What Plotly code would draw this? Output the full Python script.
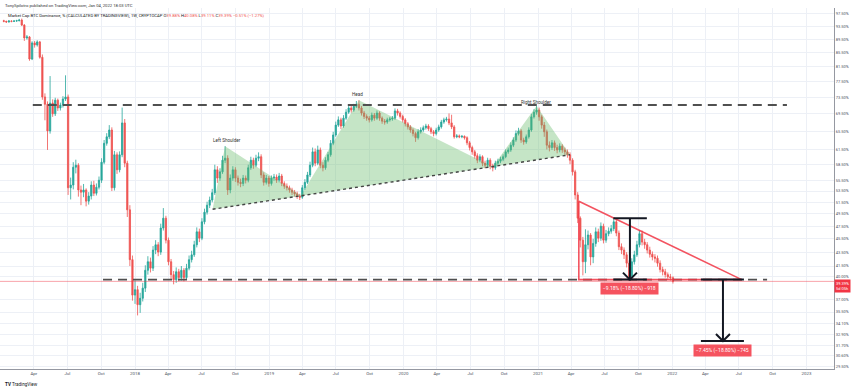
import math
import pandas as pd
import plotly.graph_objects as go

# ---------------- data (weekly BTC dominance, %) ----------------
first_open = 95.3
closes = [
    95.1, 94.9, 95.2, 95.1, 95.2, 95.3, 95.5, 93.9, 89.9, 90.2,
    83.7, 88.4, 87.8, 88.7, 84.2, 73.6, 71.8, 65.6, 72.1, 69.5,
    72.8, 70.9, 71.6, 73.1, 73.6, 54.1, 54.6, 58.0, 58.4, 53.7,
    53.3, 53.7, 51.7, 52.6, 54.6, 53.1, 54.2, 55.5, 59.0, 62.9,
    64.3, 65.8, 54.1, 60.5, 57.5, 60.5, 67.4, 58.8, 50.2, 42.4,
    37.6, 38.3, 36.4, 37.2, 38.5, 40.9, 42.1, 41.2, 43.8, 44.6,
    43.5, 47.2, 48.8, 45.3, 42.1, 40.3, 39.6, 40.7, 39.9, 40.9,
    39.9, 41.2, 42.4, 43.1, 44.6, 46.6, 45.6, 48.2, 49.8, 51.0,
    51.9, 53.2, 57.5, 55.9, 57.1, 59.4, 59.8, 53.7, 55.9, 57.5,
    55.9, 55.1, 54.9, 55.9, 55.5, 57.9, 59.4, 58.4, 59.8, 60.1,
    56.5, 55.1, 55.9, 54.9, 55.9, 56.1, 55.5, 56.3, 54.9, 54.4,
    54.1, 53.7, 53.3, 53.0, 52.6, 52.4, 54.1, 55.1, 56.5, 58.4,
    61.1, 58.8, 61.5, 58.4, 57.9, 59.4, 60.5, 62.9, 64.7, 66.9,
    68.1, 66.7, 68.5, 69.9, 70.9, 70.4, 71.3, 71.8, 70.9, 69.7,
    68.9, 68.5, 68.1, 69.2, 68.5, 69.7, 68.5, 67.8, 67.6, 68.1,
    68.3, 68.5, 70.2, 69.7, 68.9, 68.1, 67.2, 66.5, 65.8, 65.0,
    64.1, 65.4, 65.8, 66.3, 66.7, 66.1, 65.4, 65.0, 65.8, 66.5,
    67.6, 68.1, 68.3, 67.4, 66.5, 64.3, 64.5, 64.3, 64.4, 64.1,
    63.0, 62.0, 61.1, 60.3, 59.4, 60.1, 58.8, 58.4, 59.4, 58.2,
    57.9, 58.8, 59.2, 59.6, 60.1, 61.1, 61.5, 62.5, 63.6, 65.0,
    65.6, 63.6, 63.2, 64.3, 65.8, 68.8, 69.9, 70.4, 68.8, 66.9,
    65.4, 62.5, 62.0, 63.0, 62.0, 61.5, 62.3, 61.5, 61.1, 60.5,
    59.4, 57.1, 52.8, 48.8, 45.3, 42.1, 44.6, 46.1, 42.8, 44.8,
    46.6, 45.6, 47.5, 45.3, 46.3, 46.7, 47.1, 48.2, 46.4, 44.3,
    43.8, 43.1, 41.9, 40.0, 42.1, 43.1, 44.6, 46.3, 45.0, 44.6,
    43.8, 43.2, 42.8, 42.6, 41.9, 41.0, 40.7, 40.3, 40.0, 39.88,
    39.39,
]
highs = [
    95.6, 95.3, 95.5, 95.4, 95.5, 95.6, 95.9, 96.0, 94.2, 90.8,
    90.5, 88.9, 89.0, 89.2, 89.0, 85.0, 74.5, 72.5, 79.0, 73.0,
    73.4, 73.2, 72.2, 73.8, 79.2, 74.2, 56.0, 59.0, 59.5, 58.8,
    54.5, 54.8, 54.0, 53.3, 55.3, 55.4, 54.9, 56.2, 59.8, 63.6,
    65.1, 66.9, 66.4, 61.3, 61.0, 61.2, 71.0, 68.3, 59.3, 51.0,
    43.0, 39.5, 38.8, 37.9, 39.2, 41.6, 42.9, 42.7, 44.4, 45.3,
    45.0, 47.9, 50.5, 49.2, 45.7, 42.5, 40.8, 41.3, 41.1, 41.5,
    41.2, 41.8, 43.0, 43.7, 45.2, 47.3, 47.1, 48.8, 50.4, 51.6,
    52.5, 53.9, 58.5, 58.2, 57.8, 60.3, 62.3, 60.4, 56.6, 58.2,
    58.0, 56.4, 55.8, 56.5, 56.4, 58.5, 60.1, 59.9, 60.5, 61.0,
    60.6, 57.0, 56.5, 56.3, 56.4, 56.7, 56.6, 56.9, 56.7, 55.3,
    54.9, 54.5, 54.1, 53.7, 53.4, 53.0, 54.6, 55.7, 57.1, 59.1,
    62.0, 61.8, 62.4, 62.0, 59.0, 60.0, 61.1, 63.6, 65.4, 67.7,
    68.9, 68.6, 69.2, 70.6, 71.6, 71.5, 71.9, 72.6, 72.8, 71.4,
    70.2, 69.4, 69.0, 69.8, 69.7, 70.3, 70.1, 68.9, 68.3, 68.6,
    68.8, 69.0, 70.8, 70.7, 70.1, 69.3, 68.5, 67.6, 66.9, 66.2,
    65.4, 66.0, 66.4, 66.8, 67.2, 67.1, 66.5, 65.8, 66.3, 67.0,
    68.1, 68.6, 68.8, 69.6, 69.3, 66.9, 64.9, 64.8, 64.7, 64.6,
    64.4, 63.4, 62.4, 61.5, 60.8, 60.6, 60.4, 59.3, 59.9, 59.8,
    58.7, 59.3, 59.7, 60.1, 60.6, 61.6, 62.0, 63.1, 64.2, 65.7,
    66.3, 66.0, 64.1, 64.8, 66.4, 69.5, 70.6, 71.4, 71.0, 69.3,
    67.6, 65.9, 63.3, 63.6, 63.5, 62.6, 62.9, 62.7, 62.0, 61.6,
    61.0, 59.8, 57.5, 53.3, 49.1, 45.8, 47.0, 46.8, 46.4, 45.5,
    47.3, 47.1, 48.1, 47.9, 46.9, 47.3, 47.7, 48.8, 48.6, 46.8,
    44.8, 44.2, 43.5, 42.3, 42.6, 43.7, 45.2, 46.9, 46.8, 45.5,
    45.0, 44.3, 43.6, 43.2, 43.0, 42.3, 41.4, 41.1, 40.6, 40.4,
    40.08,
]
lows = [
    94.8, 94.6, 94.7, 94.8, 94.9, 95.0, 95.1, 93.6, 89.0, 89.4,
    83.2, 83.4, 87.0, 87.3, 83.8, 72.9, 68.0, 61.5, 65.0, 68.8,
    69.0, 70.2, 70.3, 71.0, 72.6, 52.8, 52.0, 53.8, 56.8, 52.5,
    51.0, 52.4, 50.8, 51.1, 52.0, 52.6, 52.7, 53.8, 55.0, 58.6,
    62.4, 63.8, 53.5, 53.6, 56.7, 57.0, 60.0, 58.0, 49.0, 41.5,
    36.9, 36.5, 35.1, 35.4, 36.8, 38.0, 40.3, 40.6, 40.8, 43.2,
    42.9, 43.1, 46.8, 44.8, 41.6, 39.7, 39.0, 39.2, 39.4, 39.5,
    39.4, 39.6, 40.9, 42.0, 42.8, 44.2, 45.0, 45.3, 47.8, 49.4,
    50.5, 51.5, 52.8, 55.0, 55.4, 56.7, 58.8, 52.8, 53.1, 55.4,
    55.2, 54.5, 54.2, 54.4, 54.9, 55.1, 57.5, 57.7, 58.0, 59.2,
    55.9, 54.5, 54.7, 54.3, 54.5, 55.4, 55.0, 55.1, 54.4, 53.9,
    53.6, 53.2, 52.8, 52.5, 52.1, 51.9, 52.1, 53.7, 54.8, 56.1,
    58.0, 58.2, 58.4, 57.8, 57.2, 57.5, 59.0, 60.1, 62.5, 64.3,
    66.5, 66.0, 66.3, 68.1, 69.5, 69.8, 70.0, 70.9, 70.3, 69.1,
    68.3, 67.9, 67.5, 67.7, 67.9, 68.1, 67.9, 67.2, 67.0, 67.2,
    67.7, 67.9, 68.1, 69.1, 68.4, 67.5, 66.6, 65.9, 65.2, 64.4,
    63.2, 63.7, 65.0, 65.4, 65.9, 65.6, 64.9, 64.4, 64.6, 65.4,
    66.1, 67.2, 67.7, 66.9, 66.0, 63.9, 64.0, 64.0, 64.0, 63.7,
    62.5, 61.4, 60.5, 59.7, 58.8, 59.0, 58.2, 57.8, 58.0, 57.6,
    57.2, 57.5, 58.4, 58.8, 59.2, 59.8, 60.7, 61.1, 62.1, 63.2,
    64.6, 63.0, 62.6, 62.8, 63.9, 65.4, 68.4, 69.3, 67.9, 66.1,
    64.3, 61.6, 61.2, 61.5, 61.3, 60.8, 61.0, 60.9, 60.5, 59.9,
    58.6, 56.4, 52.0, 48.0, 44.2, 40.2, 40.5, 43.9, 41.6, 41.9,
    44.3, 45.0, 45.2, 44.8, 44.9, 45.9, 46.3, 46.7, 45.9, 43.8,
    43.2, 42.5, 41.3, 39.7, 39.7, 41.7, 42.8, 44.2, 44.5, 44.0,
    43.3, 42.7, 42.3, 42.0, 41.4, 40.6, 40.2, 39.9, 39.6, 39.5,
    39.11,
]
opens = [first_open] + closes[:-1]
dates = pd.date_range("2017-01-09", periods=len(closes), freq="7D")

x_tick_vals = ["2017-04-01", "2017-07-01", "2017-10-01", "2018-01-01",
               "2018-04-01", "2018-07-01", "2018-10-01", "2019-01-01",
               "2019-04-01", "2019-07-01", "2019-10-01", "2020-01-01",
               "2020-04-01", "2020-07-01", "2020-10-01", "2021-01-01",
               "2021-04-01", "2021-07-01", "2021-10-01", "2022-01-01",
               "2022-04-01", "2022-07-01", "2022-10-01", "2023-01-01"]
x_tick_text = ["Apr", "Jul", "Oct", "2018", "Apr", "Jul", "Oct", "2019",
               "Apr", "Jul", "Oct", "2020", "Apr", "Jul", "Oct", "2021",
               "Apr", "Jul", "Oct", "2022", "Apr", "Jul", "Oct", "2023"]

y_tick_vals = [97.5, 93.5, 89.5, 85.5, 81.5, 77.5, 73.5, 69.5, 65.5, 61.5,
               58.5, 55.5, 53.5, 51.5, 49.5, 47.5, 45.5, 43.5, 41.5, 40.0,
               37.0, 35.5, 34.1, 32.9, 31.7, 30.6, 29.5]
y_tick_text = ["%.2f%%" % v for v in y_tick_vals]

# drawings
hs_dates = ["2018-07-31", "2018-09-03", "2019-03-28", "2019-09-02",
            "2020-08-31", "2020-12-28", "2021-03-29"]
hs_values = [50.3, 62.3, 52.7, 72.8, 58.1, 71.4, 60.5]
hs_label_text = ["Left Shoulder", "Head", "Right Shoulder"]
hs_label_dates = ["2018-09-08", "2019-08-30", "2020-12-27"]
hs_label_values = [63.6, 74.3, 72.3]

upper_level = 71.6
upper_span = ["2017-03-29", "2022-11-09"]
support_level = 39.63
support_span = ["2017-10-06", "2022-09-16"]

tri_dates = ["2021-04-22", "2022-07-09", "2021-04-22", "2021-04-22"]
tri_values = [51.7, 39.63, 39.63, 51.7]

m1_span = ["2021-07-25", "2021-10-24"]
m1_center = "2021-09-08"
m1_top, m1_bottom = 48.81, 39.63
m2_span = ["2022-03-20", "2022-07-15"]
m2_center = "2022-05-19"
m2_top, m2_bottom = 39.63, 32.18
m1_label = "−9.18% (−18.80%) −918"
m2_label = "−7.45% (−18.80%) −745"
m1_label_value = 38.4
m2_label_value = 31.16

last_price = 39.39

UP = "#26a69a"
DOWN = "#ef5350"
RED = "#f23645"
INK = "#131722"

fig = go.Figure()

# green head & shoulders fill
fig.add_trace(go.Scatter(
    x=hs_dates + [hs_dates[0]], y=hs_values + [hs_values[0]],
    fill="toself", fillcolor="rgba(102,187,106,0.38)",
    mode="lines", line=dict(width=0), hoverinfo="skip", showlegend=False))

# price line
fig.add_trace(go.Scatter(
    x=["2016-12-20", "2023-04-01"], y=[last_price, last_price], mode="lines",
    line=dict(color="rgba(242,54,69,0.45)", width=1), hoverinfo="skip",
    showlegend=False))

# dashed levels
for lvl, span, w in [(upper_level, upper_span, 2), (support_level, support_span, 1.8)]:
    fig.add_trace(go.Scatter(
        x=span, y=[lvl, lvl], mode="lines",
        line=dict(color="#505050", width=w, dash="9px,6px"),
        hoverinfo="skip", showlegend=False))

# candles
fig.add_trace(go.Candlestick(
    x=dates, open=opens, high=highs, low=lows, close=closes,
    increasing=dict(line=dict(color=UP, width=0.8), fillcolor=UP),
    decreasing=dict(line=dict(color=DOWN, width=0.8), fillcolor=DOWN),
    whiskerwidth=0, hoverinfo="skip", showlegend=False))

# neckline
fig.add_trace(go.Scatter(
    x=[hs_dates[0], hs_dates[-1]], y=[hs_values[0], hs_values[-1]], mode="lines",
    line=dict(color="#444444", width=1.4, dash="dot"),
    hoverinfo="skip", showlegend=False))

# triangle
fig.add_trace(go.Scatter(
    x=tri_dates, y=tri_values, mode="lines",
    line=dict(color=RED, width=1.6), opacity=0.85,
    hoverinfo="skip", showlegend=False))


def day_shift(d, n):
    return (pd.Timestamp(d) + pd.Timedelta(days=n)).strftime("%Y-%m-%d")


for span, center, top, bottom in [(m1_span, m1_center, m1_top, m1_bottom),
                                   (m2_span, m2_center, m2_top, m2_bottom)]:
    for lvl in (top, bottom):
        fig.add_trace(go.Scatter(x=span, y=[lvl, lvl], mode="lines",
                                 line=dict(color=INK, width=2),
                                 hoverinfo="skip", showlegend=False))
    fig.add_trace(go.Scatter(x=[center, center], y=[top, bottom], mode="lines",
                             line=dict(color=INK, width=2),
                             hoverinfo="skip", showlegend=False))
    arm = bottom * math.exp(7 / 295)
    fig.add_trace(go.Scatter(
        x=[day_shift(center, -19), center, day_shift(center, 19)],
        y=[arm, bottom, arm], mode="lines",
        line=dict(color=INK, width=2), hoverinfo="skip", showlegend=False))

annotations = []
for t, d, v in zip(hs_label_text, hs_label_dates, hs_label_values):
    annotations.append(dict(x=d, y=math.log10(v), xref="x", yref="y", text=t,
                            showarrow=False, font=dict(size=4.6, color="#333333")))
for txt, d, v in [(m1_label, m1_center, m1_label_value), (m2_label, m2_center, m2_label_value)]:
    annotations.append(dict(x=d, y=math.log10(v), xref="x", yref="y", text=txt,
                            showarrow=False, bgcolor="#f5535f", borderpad=2,
                            font=dict(size=5, color="white")))

# last price label on axis
annotations.append(dict(x=1.0, y=math.log10(last_price), xref="paper", yref="y",
                        xanchor="left", yanchor="top", yshift=2, showarrow=False,
                        text="39.39%<br>5d 05h", bgcolor=RED, borderpad=1,
                        align="left", font=dict(size=4, color="white")))

H_PLOT = 391 - 8 - 22
def py(ypix):
    return (369 - ypix) / H_PLOT

annotations.append(dict(x=3 / 834, y=py(5), xref="paper", yref="paper", xanchor="left",
                        yanchor="middle", showarrow=False,
                        text="TonySpilotro published on TradingView.com, Jan 04, 2022 18:03 UTC",
                        font=dict(size=4.2, color="#333333")))
leg = ("Market Cap BTC Dominance, % (CALCULATED BY TRADINGVIEW), 1W, CRYPTOCAP "
       "O<span style='color:#ef5350'>39.88%</span> "
       "H<span style='color:#ef5350'>40.08%</span> "
       "L<span style='color:#ef5350'>39.11%</span> "
       "C<span style='color:#ef5350'>39.39%</span> "
       "<span style='color:#ef5350'>−0.51% (−1.27%)</span>")
annotations.append(dict(x=6 / 834, y=py(15), xref="paper", yref="paper", xanchor="left",
                        yanchor="middle", showarrow=False, text=leg,
                        font=dict(size=4.2, color=INK)))
annotations.append(dict(x=3 / 834, y=py(384), xref="paper", yref="paper", xanchor="left",
                        yanchor="middle", showarrow=False,
                        text="<b>TV</b> TradingView", font=dict(size=4.6, color=INK)))

fig.update_layout(
    width=860, height=391,
    margin=dict(l=0, r=26, t=8, b=22),
    paper_bgcolor="white", plot_bgcolor="white",
    font=dict(family="Roboto, Arial, sans-serif", color="#4c525e"),
    showlegend=False, boxgap=0.28,
    annotations=annotations,
    xaxis=dict(type="date", range=["2016-12-29 19:00", "2023-03-17"],
               tickvals=x_tick_vals, ticktext=x_tick_text,
               tickfont=dict(size=4.4, color="#4c525e"),
               showgrid=True, gridcolor="#edf0f6", gridwidth=1,
               showline=True, linecolor="#9598a1", linewidth=1,
               zeroline=False, ticks="", rangeslider=dict(visible=False)),
    yaxis=dict(type="log", side="right",
               range=[math.log10(29.27), math.log10(99.50)],
               tickvals=y_tick_vals, ticktext=y_tick_text,
               tickfont=dict(size=4, color="#4c525e"),
               showgrid=True, gridcolor="#edf0f6", gridwidth=1,
               showline=True, linecolor="#9598a1", linewidth=1,
               zeroline=False, ticks=""),
)

fig.write_html("out.html",
               config={"displayModeBar": False},
               post_script="document.body.style.margin='0';document.body.style.padding='0';")
